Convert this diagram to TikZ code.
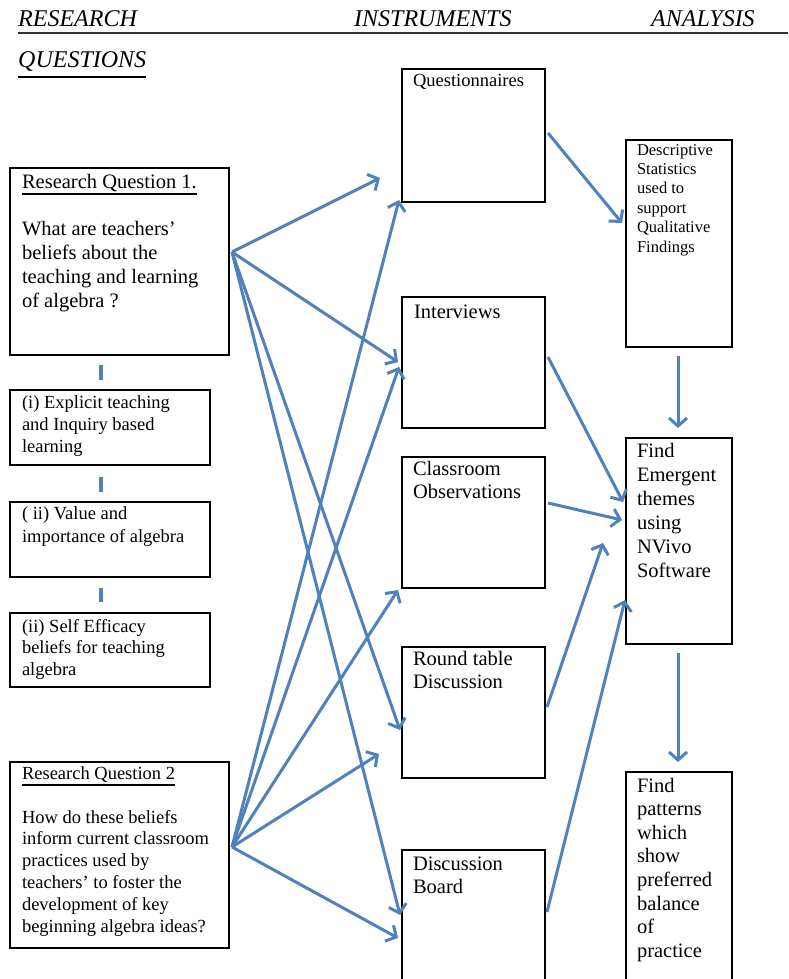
\documentclass[tikz,border=0pt]{standalone}
\usepackage{fontspec}
\setmainfont{Liberation Serif}
\usetikzlibrary{arrows.meta}
\definecolor{arrowblue}{HTML}{4F81BD}
\definecolor{rulegray}{HTML}{333333}
\newcommand{\boxtxt}[3]{\parbox[t]{300pt}{\fontsize{#1}{#2}\selectfont #3}}
\newcommand{\myul}[3]{\leavevmode\setbox0\hbox{#3}\rlap{\rule[-#1]{\wd0}{#2}}\box0}
\tikzset{
  box/.style={draw=black, line width=1.8pt, anchor=north west, inner sep=0pt, outer sep=0pt},
  txt/.style={anchor=base west, inner sep=0pt, outer sep=0pt},
  conn/.style={draw=arrowblue, line width=3pt, -{Straight Barb[length=8pt,width=18pt]}},
  tickline/.style={draw=arrowblue, line width=4pt},
  hdr/.style={anchor=base west, inner sep=0pt, font=\fontsize{24}{28}\selectfont\itshape},
}
\begin{document}
\begin{tikzpicture}[x=1pt, y=-1pt]
\clip (0,0) rectangle (788,979);
\useasboundingbox (0,0) rectangle (788,979);
\fill[white] (0,0) rectangle (788,979);

% headers
\node[hdr] (hres) at (18,27) {RESEARCH};
\node[hdr] (hins) at (354,27) {INSTRUMENTS};
\node[hdr] (hana) at (651,27) {ANALYSIS};
\node[hdr] (hque) at (18,68) {\myul{10pt}{2.4pt}{QUESTIONS}};
\draw[rulegray, line width=2pt] (18,33) -- (788,33);

% left boxes
\node[box, minimum width=219pt, minimum height=187pt] (rq1) at (10,168) {};
\node[txt] (rq1t) at (22,188) {\boxtxt{20.5}{24}{\myul{6.5pt}{1.8pt}{Research Question 1.}\\[23pt]What are teachers'\\beliefs about the\\teaching and learning\\of algebra ?}};

\node[box, minimum width=200pt, minimum height=75pt] (b1) at (10,390) {};
\node[txt] (b1t) at (22,408) {\boxtxt{18.5}{22}{(i) Explicit teaching\\and Inquiry based\\learning}};

\node[box, minimum width=200pt, minimum height=75pt] (b2) at (10,502) {};
\node[txt] (b2t) at (22,519) {\boxtxt{18.5}{23.5}{( ii) Value and\\importance of algebra}};

\node[box, minimum width=200pt, minimum height=74pt] (b3) at (10,613) {};
\node[txt] (b3t) at (22,632) {\boxtxt{18.5}{21.5}{(ii) Self Efficacy\\beliefs for teaching\\algebra}};

\node[box, minimum width=219pt, minimum height=186pt] (rq2) at (10,762) {};
\node[txt] (rq2t) at (22,779) {\boxtxt{18.5}{21.8}{\myul{6.5pt}{1.8pt}{Research Question 2}\\[22.2pt]How do these beliefs\\inform current classroom\\practices used by\\teachers' to foster the\\development of key\\beginning algebra ideas?}};

% ticks between left boxes
\draw[tickline] (101,365) -- (101,380);
\draw[tickline] (101,477) -- (101,492);
\draw[tickline] (101,588) -- (101,602);

% instrument boxes
\node[box, minimum width=143pt, minimum height=133pt] (quest) at (402,69) {};
\node[txt] (questt) at (413,87) {\boxtxt{18.5}{22}{Questionnaires}};
\node[box, minimum width=143pt, minimum height=131pt] (inter) at (402,297) {};
\node[txt] (intert) at (414,318) {\boxtxt{20.5}{23}{Interviews}};
\node[box, minimum width=143pt, minimum height=131pt] (class) at (402,457) {};
\node[txt] (classt) at (413,475) {\boxtxt{20.5}{23}{Classroom\\Observations}};
\node[box, minimum width=143pt, minimum height=131pt] (round) at (402,647) {};
\node[txt] (roundt) at (413,665) {\boxtxt{20.5}{23}{Round table\\Discussion}};
\node[box, minimum width=143pt, minimum height=150pt] (board) at (402,850) {};
\node[txt] (boardt) at (413,870) {\boxtxt{20.5}{23}{Discussion\\Board}};

% analysis boxes
\node[box, minimum width=106pt, minimum height=207pt] (desc) at (626,140) {};
\node[txt] (desct) at (637,155) {\boxtxt{16.5}{19.4}{Descriptive\\Statistics\\used to\\support\\Qualitative\\Findings}};
\node[box, minimum width=106pt, minimum height=206pt] (find) at (626,438) {};
\node[txt] (findt) at (637,457) {\boxtxt{20.5}{24}{Find\\Emergent\\themes\\using\\NVivo\\Software}};
\node[box, minimum width=106pt, minimum height=230pt] (patt) at (626,772) {};
\node[txt] (pattt) at (637,792) {\boxtxt{20.5}{23.6}{Find\\patterns\\which\\show\\preferred\\balance\\of\\practice}};

% connector end points
\coordinate (s1) at (232,252);
\coordinate (s2) at (232,847);
\coordinate (tq1) at (380,178);
\coordinate (ti1) at (398,362);
\coordinate (tr1) at (400,730);
\coordinate (td1) at (400,915);
\coordinate (tq2) at (399,200);
\coordinate (ti2) at (399,367);
\coordinate (tc2) at (398,590);
\coordinate (tr2) at (379,754);
\coordinate (td2) at (398,938);
\coordinate (qs) at (548,133);
\coordinate (dt) at (622,223);
\coordinate (is) at (548,357);
\coordinate (ft1) at (623,502);
\coordinate (cs) at (548,503);
\coordinate (ft2) at (622,520);
\coordinate (rs) at (547,707);
\coordinate (ft3) at (603,543);
\coordinate (ds) at (547,912);
\coordinate (ft4) at (625,600);
\coordinate (dsb) at (678,356);
\coordinate (fdt) at (678,428);
\coordinate (fsb) at (678,653);
\coordinate (ptt) at (678,762);

% RQ1 arrows
\draw[conn] (s1) -- (tq1);
\draw[conn] (s1) -- (ti1);
\draw[conn] (s1) -- (tr1);
\draw[conn] (s1) -- (td1);
% RQ2 arrows
\draw[conn] (s2) -- (tq2);
\draw[conn] (s2) -- (ti2);
\draw[conn] (s2) -- (tc2);
\draw[conn] (s2) -- (tr2);
\draw[conn] (s2) -- (td2);
% right arrows
\draw[conn] (qs) -- (dt);
\draw[conn] (is) -- (ft1);
\draw[conn] (cs) -- (ft2);
\draw[conn] (rs) -- (ft3);
\draw[conn] (ds) -- (ft4);
\draw[conn] (dsb) -- (fdt);
\draw[conn] (fsb) -- (ptt);
\end{tikzpicture}
\end{document}
